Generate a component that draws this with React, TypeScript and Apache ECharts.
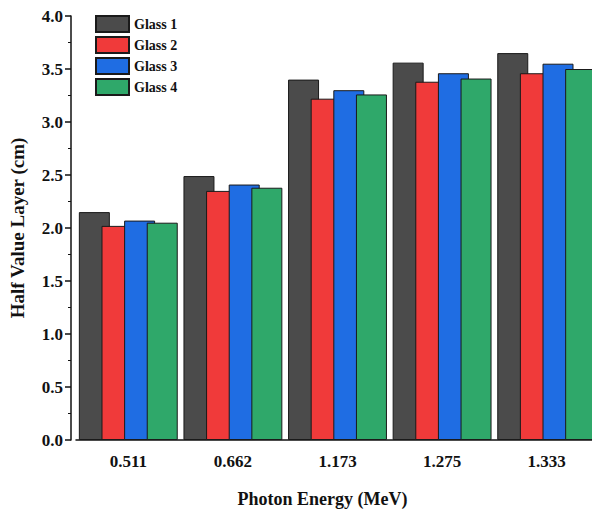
import React, { useEffect, useRef } from "react";
import * as echarts from "echarts";

const categories = ["0.511", "0.662", "1.173", "1.275", "1.333"];
const seriesNames = ["Glass 1", "Glass 2", "Glass 3", "Glass 4"];
const glass1 = [2.15, 2.49, 3.4, 3.56, 3.65];
const glass2 = [2.02, 2.35, 3.22, 3.38, 3.46];
const glass3 = [2.07, 2.41, 3.3, 3.46, 3.55];
const glass4 = [2.05, 2.38, 3.26, 3.41, 3.5];
const colors = ["#4b4b4b", "#f03a3a", "#1f6de3", "#2fa86a"];

const FONT = "Liberation Serif";

export default function App() {
  const ref = useRef<HTMLDivElement>(null);
  useEffect(() => {
    document.body.style.margin = "0";
    const chart = echarts.init(ref.current!, null, { renderer: "svg" });
    const data = [glass1, glass2, glass3, glass4];
    chart.setOption({
      animation: false,
      backgroundColor: "#ffffff",
      textStyle: { fontFamily: FONT },
      legend: {
        orient: "vertical",
        left: 90,
        top: 10,
        itemWidth: 33,
        itemHeight: 16,
        itemGap: 3,
        icon: "rect",
        data: seriesNames,
        textStyle: { fontFamily: FONT, fontWeight: "bold", fontSize: 14, color: "#111" },
      },
      grid: { left: 72, top: 16, right: 21, bottom: 73, containLabel: false },
      xAxis: {
        type: "category",
        data: categories,
        name: "Photon Energy (MeV)",
        nameLocation: "middle",
        nameGap: 50,
        nameTextStyle: { fontFamily: FONT, fontWeight: "bold", fontSize: 18, color: "#111", padding: [0, 30, 0, 0] },
        axisLine: { lineStyle: { color: "#111", width: 1.5 } },
        axisTick: { alignWithLabel: true, length: 6, lineStyle: { color: "#111", width: 1.5 } },
        axisLabel: { fontFamily: FONT, fontWeight: "bold", fontSize: 17, color: "#111", margin: 13 },
      },
      yAxis: {
        type: "value",
        min: 0,
        max: 4,
        interval: 0.5,
        offset: 5,
        name: "Half Value Layer (cm)",
        nameLocation: "middle",
        nameGap: 44,
        nameTextStyle: { fontFamily: FONT, fontWeight: "bold", fontSize: 19, color: "#111" },
        axisLine: { show: true, lineStyle: { color: "#111", width: 1.5 } },
        axisTick: { show: true, length: 6, lineStyle: { color: "#111", width: 1.5 } },
        minorTick: { show: true, splitNumber: 2, length: 3, lineStyle: { color: "#111", width: 1 } },
        splitLine: { show: false },
        axisLabel: {
          fontFamily: FONT,
          fontWeight: "bold",
          fontSize: 17,
          color: "#111",
          margin: 8,
          formatter: (v: number) => v.toFixed(1),
        },
      },
      series: seriesNames.map((name, i) => ({
        name,
        type: "bar",
        data: data[i],
        barWidth: 31,
        barGap: "-27%",
        itemStyle: { color: colors[i], borderColor: "#1a1a1a", borderWidth: 1 },
      })),
    });
    return () => chart.dispose();
  }, []);
  return (
    <div style={{ width: 592, height: 513, overflow: "hidden", position: "relative" }}>
      <div ref={ref} style={{ width: 620, height: 513 }} />
    </div>
  );
}
